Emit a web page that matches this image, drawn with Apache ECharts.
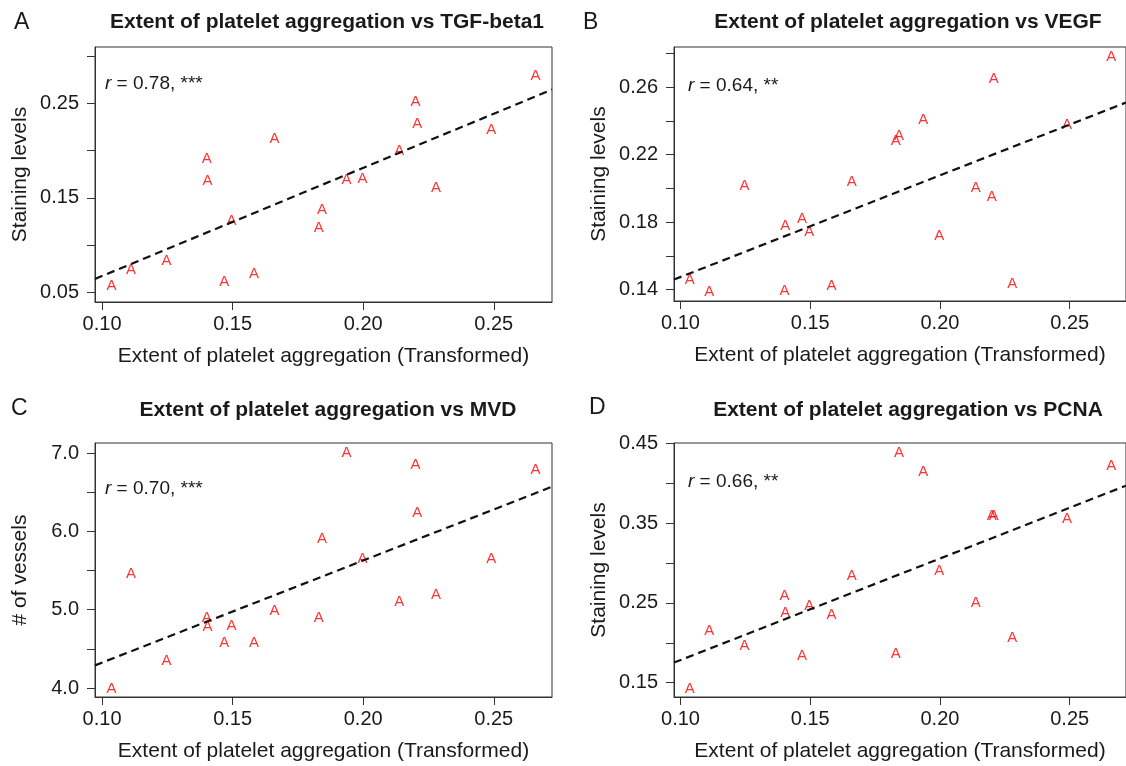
<!DOCTYPE html>
<html>
<head>
<meta charset="utf-8">
<script src="https://cdn.jsdelivr.net/npm/echarts@6/dist/echarts.min.js"></script>
<style>
html,body{margin:0;padding:0;background:#fff;}
#chart{width:1126px;height:766px;}
</style>
</head>
<body>
<div id="chart"></div>
<script>
// Shared x values: extent of platelet aggregation (transformed)
var aggX = [0.1036, 0.1111, 0.1247, 0.1401, 0.1404, 0.1468, 0.1496, 0.1582, 0.1660, 0.1830,
            0.1842, 0.1936, 0.1997, 0.2138, 0.2200, 0.2207, 0.2279, 0.2490, 0.2660];
// Panel A: TGF-beta1 staining levels
var tgfY = [0.0568, 0.0735, 0.0827, 0.1913, 0.1682, 0.0610, 0.1254, 0.0692, 0.2130, 0.1183,
            0.1375, 0.1692, 0.1706, 0.2002, 0.2518, 0.2286, 0.1603, 0.2226, 0.2795];
// Panel B: VEGF staining levels
var vegfY = [0.1455, 0.1384, 0.2016, 0.1390, 0.1775, 0.1820, 0.1739, 0.1420, 0.2035, 0.2278,
             0.2308, 0.2408, 0.1716, 0.2002, 0.1951, 0.2651, 0.1434, 0.2377, 0.2779];
// Panel C: MVD (# of vessels)
var mvdY = [3.99, 5.46, 4.345, 4.89, 4.775, 4.575, 4.79, 4.575, 4.99, 4.89,
            5.906, 6.996, 5.65, 5.094, 6.843, 6.234, 5.19, 5.647, 6.779];
// Panel D: PCNA staining levels
var pcnaY = [0.142, 0.2149, 0.1956, 0.2588, 0.2374, 0.1835, 0.2458, 0.2354, 0.2835, 0.1864,
             0.4383, 0.4144, 0.2897, 0.2496, 0.3592, 0.3588, 0.2065, 0.3559, 0.4215];

// Fitted trend lines (read endpoints)
var trendA = [[0.0973, 0.0639], [0.2723, 0.2648]];
var trendB = [[0.0975, 0.1459], [0.2717, 0.2508]];
var trendC = [[0.0973, 4.289], [0.2723, 6.570]];
var trendD = [[0.0975, 0.1751], [0.2717, 0.3972]];

// Tick positions and labels
var xTicks = [0.10, 0.15, 0.20, 0.25];
var yTicksA = [0.05, 0.10, 0.15, 0.20, 0.25, 0.30];
var yLabelsA = [0.05, 0.15, 0.25];
var yTicksB = [0.14, 0.16, 0.18, 0.20, 0.22, 0.24, 0.26, 0.28];
var yLabelsB = [0.14, 0.18, 0.22, 0.26];
var yTicksC = [4.0, 4.5, 5.0, 5.5, 6.0, 6.5, 7.0];
var yLabelsC = [4.0, 5.0, 6.0, 7.0];
var yTicksD = [0.15, 0.20, 0.25, 0.30, 0.35, 0.40, 0.45];
var yLabelsD = [0.15, 0.25, 0.35, 0.45];

var panelLetters = ['A', 'B', 'C', 'D'];
var panelTitles = ['Extent of platelet aggregation vs TGF-beta1',
                   'Extent of platelet aggregation vs VEGF',
                   'Extent of platelet aggregation vs MVD',
                   'Extent of platelet aggregation vs PCNA'];
var rTexts = ['0.78, ***', '0.64, **', '0.70, ***', '0.66, **'];
var xName = 'Extent of platelet aggregation (Transformed)';
var yNames = ['Staining levels', 'Staining levels', '# of vessels', 'Staining levels'];

var FONT = "'Liberation Sans', Arial, Helvetica, sans-serif";
var chart = echarts.init(document.getElementById('chart'), null, {renderer: 'canvas'});

var grids = [
  {left: 95, top: 47, width: 457, height: 255},
  {left: 674, top: 47, width: 457, height: 254},
  {left: 95, top: 443, width: 457, height: 254},
  {left: 674, top: 443, width: 457, height: 254}
];
var xRanges = [[0.0973, 0.2723], [0.0975, 0.2717], [0.0973, 0.2723], [0.0975, 0.2717]];
var yRanges = [[0.0394, 0.3100], [0.1332, 0.2837], [3.885, 7.128], [0.1319, 0.4508]];
var yTicks = [yTicksA, yTicksB, yTicksC, yTicksD];
var yLabels = [yLabelsA, yLabelsB, yLabelsC, yLabelsD];
var yDec = [2, 2, 1, 2];
var ys = [tgfY, vegfY, mvdY, pcnaY];
var trends = [trendA, trendB, trendC, trendD];

var option = {
  animation: false,
  backgroundColor: '#ffffff',
  grid: grids.map(function (g) {
    return Object.assign({show: true, borderColor: '#333', borderWidth: 1, backgroundColor: 'transparent'}, g);
  }),
  xAxis: [], yAxis: [], series: [], title: [], graphic: []
};

for (var i = 0; i < 4; i++) {
  option.xAxis.push({
    type: 'value', gridIndex: i, min: xRanges[i][0], max: xRanges[i][1],
    name: xName, nameLocation: 'middle', nameGap: 44,
    nameTextStyle: {fontFamily: FONT, fontSize: 21, color: '#1a1a1a'},
    axisLine: {show: true, lineStyle: {color: '#333', width: 1}},
    axisTick: {show: true, length: 8, inside: false, customValues: xTicks, lineStyle: {color: '#333'}},
    axisLabel: {show: true, customValues: xTicks, margin: 12, fontFamily: FONT, fontSize: 20, color: '#1a1a1a',
      formatter: function (v) { return v.toFixed(2); }},
    splitLine: {show: false}
  });
  (function (dec) {
    option.yAxis.push({
      type: 'value', gridIndex: i, min: yRanges[i][0], max: yRanges[i][1],
      name: yNames[i], nameLocation: 'middle', nameGap: 64,
      nameTextStyle: {fontFamily: FONT, fontSize: 21, color: '#1a1a1a'},
      axisLine: {show: true, lineStyle: {color: '#333', width: 1}},
      axisTick: {show: true, length: 8, inside: false, customValues: yTicks[i], lineStyle: {color: '#333'}},
      axisLabel: {show: true, customValues: yLabels[i], margin: 16, fontFamily: FONT, fontSize: 20, color: '#1a1a1a',
        formatter: function (v) { return v.toFixed(dec); }},
      splitLine: {show: false}
    });
  })(yDec[i]);
  option.series.push({
    type: 'scatter', xAxisIndex: i, yAxisIndex: i,
    data: aggX.map(function (x, k) { return [x, ys[i][k]]; }),
    symbol: 'circle', symbolSize: 1,
    itemStyle: {color: 'rgba(0,0,0,0)'},
    label: {show: true, position: 'inside', formatter: 'A', color: '#ff0000',
      fontFamily: FONT, fontSize: 15},
    emphasis: {disabled: true}
  });
  option.series.push({
    type: 'line', xAxisIndex: i, yAxisIndex: i, data: trends[i],
    symbol: 'none', lineStyle: {color: '#111', width: 2.2, type: [8, 5]}
  });
}

var letterPos = [[14, 11], [583, 11], [11, 397], [589, 396]];
var titleCenters = [[327, 22], [908, 22], [328, 410], [908, 410]];
var rPos = [[105, 74], [688, 76], [105, 479], [688, 472]];
for (var j = 0; j < 4; j++) {
  option.title.push({
    text: panelLetters[j], left: letterPos[j][0], top: letterPos[j][1], padding: 0,
    textStyle: {fontFamily: FONT, fontSize: 23, fontWeight: 'normal', color: '#1a1a1a'}
  });
  option.title.push({
    text: '{i|r} = ' + rTexts[j], left: rPos[j][0], top: rPos[j][1], padding: 0,
    textStyle: {fontFamily: FONT, fontSize: 19, fontWeight: 'normal', color: '#1a1a1a',
      rich: {i: {fontFamily: FONT, fontSize: 19, fontStyle: 'italic', color: '#1a1a1a'}}}
  });
  option.graphic.push({
    type: 'text', x: titleCenters[j][0], y: titleCenters[j][1],
    style: {text: panelTitles[j], textAlign: 'center', textVerticalAlign: 'middle',
      font: 'bold 21px ' + FONT, fill: '#1a1a1a'}
  });
}

chart.setOption(option);
</script>
</body>
</html>
